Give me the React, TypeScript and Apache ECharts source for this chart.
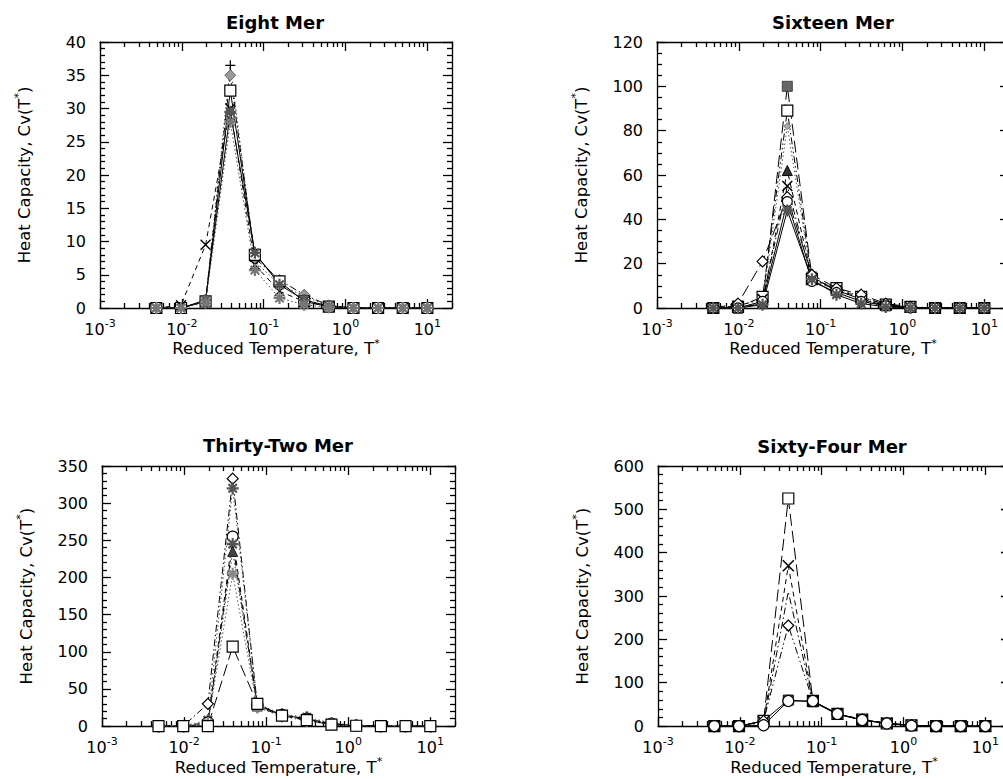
import React, { useEffect, useRef } from "react";
import * as echarts from "echarts";

// ---------- data ----------
const temperatures = [0.00488, 0.00977, 0.0195, 0.0391, 0.0781, 0.156, 0.3125, 0.625, 1.25, 2.5, 5, 10];

const panelTitles = ["Eight Mer", "Sixteen Mer", "Thirty-Two Mer", "Sixty-Four Mer"];
const yMaxes = [40, 120, 350, 600];
const yIntervals = [5, 20, 50, 100];
const yMinorSplits = [5, 4, 5, 5];
const xMajorTicks = [0.001, 0.01, 0.1, 1, 10];
const xMinorTicks = [
  0.002, 0.003, 0.004, 0.005, 0.006, 0.007, 0.008, 0.009,
  0.02, 0.03, 0.04, 0.05, 0.06, 0.07, 0.08, 0.09,
  0.2, 0.3, 0.4, 0.5, 0.6, 0.7, 0.8, 0.9,
  2, 3, 4, 5, 6, 7, 8, 9,
  20,
];

// Eight Mer
const eightPlus = [0, 0, 1.0, 36.5, 7.0, 3.5, 1.8, 0.3, 0, 0, 0, 0];
const eightDiamond = [0, 0, 1.0, 35.0, 7.5, 4.2, 2.0, 0.4, 0, 0, 0, 0];
const eightSquare = [0, 0, 1.0, 32.7, 8.0, 4.0, 1.0, 0.2, 0, 0, 0, 0];
const eightCross = [0, 0.4, 9.5, 30.0, 6.5, 2.5, 1.0, 0.2, 0, 0, 0, 0];
const eightStarA = [0, 0, 1.2, 29.5, 8.3, 3.5, 1.2, 0.3, 0, 0, 0, 0];
const eightStarB = [0, 0, 0.8, 28.0, 5.7, 1.5, 0.5, 0.1, 0, 0, 0, 0];

// Sixteen Mer
const sixteenFilledSquare = [0, 0, 2, 100, 14, 8, 4, 1, 0.3, 0, 0, 0];
const sixteenSquare = [0, 0.5, 5, 89, 13, 9, 5, 1.5, 0.5, 0, 0, 0];
const sixteenSmallDiamond = [0, 0, 3, 82, 12, 7, 3, 1, 0, 0, 0, 0];
const sixteenTriangle = [0, 0, 2, 62, 14, 8, 5, 1.5, 0.3, 0, 0, 0];
const sixteenCross = [0, 1, 4, 55, 13, 8, 4, 1, 0.3, 0, 0, 0];
const sixteenDiamond = [0, 2, 21, 50, 15, 9, 6, 2, 0.5, 0, 0, 0];
const sixteenCircle = [0, 0, 3, 48, 12, 7, 3, 1, 0.2, 0, 0, 0];
const sixteenStar = [0, 0, 1.5, 44, 13, 6, 2, 0.5, 0, 0, 0, 0];

// Thirty-Two Mer
const thirtyTwoDiamond = [0, 0, 30, 333, 28, 15, 10, 3, 1, 0, 0, 0];
const thirtyTwoStarA = [0, 0, 8, 320, 30, 16, 12, 4, 1, 0, 0, 0];
const thirtyTwoCircle = [0, 0, 5, 255, 28, 15, 10, 3, 0.5, 0, 0, 0];
const thirtyTwoStarB = [0, 0, 3, 245, 26, 14, 9, 3, 0.5, 0, 0, 0];
const thirtyTwoTriangle = [0, 0, 2, 235, 27, 15, 8, 2, 0.5, 0, 0, 0];
const thirtyTwoStarC = [0, 0, 4, 205, 25, 13, 7, 2, 0.5, 0, 0, 0];
const thirtyTwoSquare = [0, 0, 0, 107, 30, 14, 8, 2, 0.5, 0, 0, 0];

// Sixty-Four Mer
const sixtyFourSquare = [0, 0, 12, 525, 58, 28, 15, 6, 2, 0, 0, 0];
const sixtyFourCross = [0, 0, 10, 370, 58, 28, 14, 7, 2, 0, 0, 0];
const sixtyFourPlain = [0, 0, 8, 310, 58, 28, 15, 6, 1, 0, 0, 0];
const sixtyFourDiamond = [0, 0, 12, 232, 58, 28, 15, 7, 2, 0, 0, 0];
const sixtyFourFilledSquare = [0, 0, 12, 60, 56, 27, 14, 6, 1, 0, 0, 0];
const sixtyFourCircle = [0, 0, 2, 58, 58, 28, 14, 6, 1, 0, 0, 0];

// ---------- styles ----------
const PLUS = "path://M5,0L5,10M0,5L10,5";
const CROSS = "path://M0,0L10,10M10,0L0,10";
const STAR = "path://M5,0L5,10M0,5L10,5M1.5,1.5L8.5,8.5M8.5,1.5L1.5,8.5";

const SOLID: any = "solid";
const DASHED = [5, 4];
const DOTTED = [1.5, 2.5];
const DASHDOT = [7, 3, 1.5, 3];
const LONGDASH = [12, 5];
const DASHDOTDOT = [7, 3, 1.5, 3, 1.5, 3];

type Spec = { data: number[]; symbol: string; size: number; fill: string; stroke: string; bw: number; dash: any; lineColor?: string };

const panelSeries: Spec[][] = [
  [
    { data: eightPlus, symbol: PLUS, size: 10, fill: "none", stroke: "#000", bw: 1.2, dash: DOTTED, lineColor: "#444" },
    { data: eightDiamond, symbol: "diamond", size: 11, fill: "#999", stroke: "#666", bw: 1, dash: DASHDOT },
    { data: eightSquare, symbol: "rect", size: 11, fill: "#fff", stroke: "#000", bw: 1.2, dash: SOLID },
    { data: eightCross, symbol: CROSS, size: 10, fill: "none", stroke: "#000", bw: 1.4, dash: DASHED },
    { data: eightStarA, symbol: STAR, size: 12, fill: "none", stroke: "#555", bw: 2.2, dash: SOLID },
    { data: eightStarB, symbol: STAR, size: 12, fill: "none", stroke: "#777", bw: 2.2, dash: DOTTED, lineColor: "#444" },
  ],
  [
    { data: sixteenFilledSquare, symbol: "rect", size: 10, fill: "#666", stroke: "#444", bw: 1, dash: LONGDASH },
    { data: sixteenSquare, symbol: "rect", size: 11, fill: "#fff", stroke: "#000", bw: 1.2, dash: DASHDOTDOT },
    { data: sixteenSmallDiamond, symbol: "diamond", size: 7, fill: "#aaa", stroke: "#777", bw: 1, dash: DOTTED, lineColor: "#555" },
    { data: sixteenTriangle, symbol: "triangle", size: 10, fill: "#333", stroke: "#000", bw: 1, dash: DASHED },
    { data: sixteenCross, symbol: CROSS, size: 10, fill: "none", stroke: "#000", bw: 1.5, dash: DASHDOT },
    { data: sixteenDiamond, symbol: "diamond", size: 11, fill: "#fff", stroke: "#000", bw: 1.2, dash: LONGDASH },
    { data: sixteenCircle, symbol: "circle", size: 10, fill: "#fff", stroke: "#000", bw: 1.2, dash: SOLID },
    { data: sixteenStar, symbol: STAR, size: 12, fill: "none", stroke: "#555", bw: 2.2, dash: SOLID },
  ],
  [
    { data: thirtyTwoDiamond, symbol: "diamond", size: 11, fill: "#fff", stroke: "#000", bw: 1.2, dash: DASHDOT },
    { data: thirtyTwoStarA, symbol: STAR, size: 12, fill: "none", stroke: "#555", bw: 2.2, dash: DOTTED, lineColor: "#444" },
    { data: thirtyTwoCircle, symbol: "circle", size: 11, fill: "#fff", stroke: "#000", bw: 1.2, dash: DASHED },
    { data: thirtyTwoStarB, symbol: STAR, size: 12, fill: "none", stroke: "#555", bw: 2.2, dash: DASHDOT },
    { data: thirtyTwoTriangle, symbol: "triangle", size: 10, fill: "#444", stroke: "#222", bw: 1, dash: DOTTED, lineColor: "#444" },
    { data: thirtyTwoStarC, symbol: STAR, size: 12, fill: "none", stroke: "#888", bw: 2.2, dash: DOTTED, lineColor: "#555" },
    { data: thirtyTwoSquare, symbol: "rect", size: 11, fill: "#fff", stroke: "#000", bw: 1.2, dash: LONGDASH },
  ],
  [
    { data: sixtyFourFilledSquare, symbol: "rect", size: 10, fill: "#777", stroke: "#000", bw: 1, dash: SOLID },
    { data: sixtyFourSquare, symbol: "rect", size: 11, fill: "#fff", stroke: "#000", bw: 1.2, dash: LONGDASH },
    { data: sixtyFourCross, symbol: CROSS, size: 11, fill: "none", stroke: "#000", bw: 1.5, dash: DASHED },
    { data: sixtyFourPlain, symbol: "none", size: 0, fill: "none", stroke: "#000", bw: 1, dash: DASHDOT },
    { data: sixtyFourDiamond, symbol: "diamond", size: 11, fill: "#fff", stroke: "#000", bw: 1.2, dash: DASHDOTDOT },
    { data: sixtyFourCircle, symbol: "circle", size: 11, fill: "#fff", stroke: "#000", bw: 1.2, dash: SOLID },
  ],
];

// ---------- layout ----------
const grids = [
  { left: 100, top: 42, width: 352, height: 266 },
  { left: 657, top: 42, width: 352, height: 266 },
  { left: 102, top: 466, width: 353, height: 265 },
  { left: 658, top: 466, width: 352, height: 266 },
];
const titlePos = [
  [275, 22],
  [833, 22],
  [278, 445],
  [832, 446],
];

const FONT = "DejaVu Sans";
const supRich = {
  b: { fontFamily: FONT, fontSize: 16, color: "#000", lineHeight: 22 },
  s: { fontFamily: FONT, fontSize: 11, color: "#000", lineHeight: 10, verticalAlign: "top" },
};

function logLabel(v: number): string {
  const e = Math.round(Math.log10(v));
  if (Math.abs(Math.log10(v) - e) > 1e-6 || v > 15) return "";
  return "{b|10}{s|" + e + "}";
}

function buildOption() {
  const xAxis: any[] = [];
  const yAxis: any[] = [];
  const series: any[] = [];
  const axisLine = { show: true, onZero: false, lineStyle: { color: "#000", width: 1.3 } };
  const tickLine = { color: "#000", width: 1.3 };

  grids.forEach((g, i) => {
    const base = { type: "log", logBase: 10, min: 0.001, max: 20, gridIndex: i, splitLine: { show: false } };
    xAxis.push({
      ...base,
      position: "bottom",
      axisLine,
      axisTick: { show: true, inside: true, length: 9, lineStyle: tickLine, customValues: xMajorTicks },
      axisLabel: {
        show: true,
        margin: 10,
        customValues: xMajorTicks,
        formatter: (v: number) => logLabel(v),
        rich: supRich,
        fontFamily: FONT,
        fontSize: 16,
        color: "#000",
      },
      name: "Reduced Temperature, T{s|*}",
      nameLocation: "middle",
      nameGap: 28,
      nameTextStyle: { fontFamily: FONT, fontSize: 16.5, color: "#000", lineHeight: 22, rich: { s: supRich.s } },
    });
    xAxis.push({
      ...base,
      position: "bottom",
      axisLine: { show: false, onZero: false },
      axisTick: { show: true, inside: true, length: 5, lineStyle: tickLine, customValues: xMinorTicks },
      axisLabel: { show: false },
    });
    xAxis.push({
      ...base,
      position: "top",
      axisLine,
      axisTick: { show: true, inside: true, length: 9, lineStyle: tickLine, customValues: xMajorTicks },
      axisLabel: { show: false },
    });
    xAxis.push({
      ...base,
      position: "top",
      axisLine: { show: false, onZero: false },
      axisTick: { show: true, inside: true, length: 5, lineStyle: tickLine, customValues: xMinorTicks },
      axisLabel: { show: false },
    });

    const ybase = {
      type: "value",
      min: 0,
      max: yMaxes[i],
      interval: yIntervals[i],
      gridIndex: i,
      splitLine: { show: false },
      axisLine: { show: true, onZero: false, lineStyle: { color: "#000", width: 1.3 } },
      axisTick: { show: true, inside: true, length: 9, lineStyle: tickLine },
      minorTick: { show: true, splitNumber: yMinorSplits[i], length: 5, lineStyle: tickLine },
    };
    yAxis.push({
      ...ybase,
      position: "left",
      axisLabel: { show: true, margin: 14, fontFamily: FONT, fontSize: 16, color: "#000" },
      name: "Heat Capacity, Cv(T{s|*})",
      nameLocation: "middle",
      nameGap: 65,
      nameTextStyle: { fontFamily: FONT, fontSize: 16.5, color: "#000", lineHeight: 22, rich: { s: supRich.s } },
    });
    yAxis.push({ ...ybase, position: "right", axisLabel: { show: false } });

    panelSeries[i].forEach((s) => {
      series.push({
        type: "line",
        xAxisIndex: i * 4,
        yAxisIndex: i * 2,
        data: temperatures.map((t, k) => [t, s.data[k]]),
        symbol: s.symbol,
        symbolSize: s.size,
        showAllSymbol: true,
        itemStyle: { color: s.fill, borderColor: s.stroke, borderWidth: s.bw },
        lineStyle: { color: s.lineColor || "#000", width: 1, type: s.dash },
        emphasis: { disabled: true },
      });
    });
  });

  const graphic = panelTitles.map((t, i) => ({
    type: "text",
    x: titlePos[i][0],
    y: titlePos[i][1],
    style: {
      text: t,
      fontFamily: FONT,
      fontSize: 18,
      fontWeight: "bold",
      fill: "#000",
      align: "center",
      verticalAlign: "middle",
    },
  }));

  return {
    animation: false,
    backgroundColor: "#fff",
    textStyle: { fontFamily: FONT },
    grid: grids.map((g) => ({ ...g, containLabel: false })),
    xAxis,
    yAxis,
    series,
    graphic,
  };
}

export default function App() {
  const ref = useRef<HTMLDivElement>(null);
  useEffect(() => {
    if (!ref.current) return;
    const chart = echarts.init(ref.current, null, { renderer: "svg" });
    chart.setOption(buildOption() as any);
    return () => chart.dispose();
  }, []);
  return (
    <div style={{ position: "fixed", left: 0, top: 0, width: 1003, height: 779, overflow: "hidden", background: "#fff" }}>
      <div ref={ref} style={{ width: 1020, height: 779 }} />
    </div>
  );
}
